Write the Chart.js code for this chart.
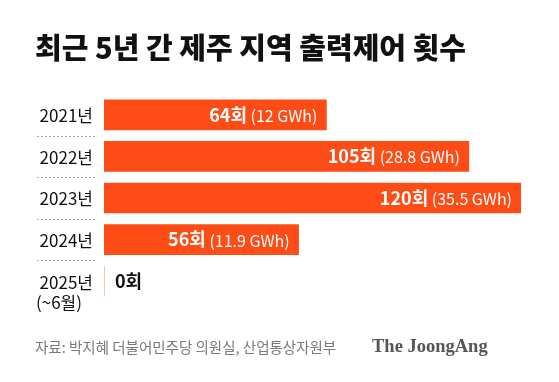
<!DOCTYPE html>
<html>
<head>
<meta charset="utf-8">
<script src="https://cdn.jsdelivr.net/npm/chart.js@4"></script>
<style>
  html, body { margin: 0; padding: 0; background: #fff; }
  #wrap { width: 559px; height: 382px; position: relative; }
</style>
</head>
<body>
<div id="wrap"><canvas id="chart" width="559" height="382"></canvas></div>
<script>
// data
var years = ['2021년', '2022년', '2023년', '2024년', '2025년'];
var yearNotes = ['', '', '', '', '(~6월)'];
var counts = [64, 105, 120, 56, 0];
var energyGWh = ['12', '28.8', '35.5', '11.9', ''];

var KR = '"Noto Sans CJK KR", "Noto Sans", sans-serif';
var barColor = '#fd4c16';

// titles, row labels, separators, value labels, footer
var decor = {
    id: 'decor',
    afterDraw: function (chart) {
        var ctx = chart.ctx;
        var yScale = chart.scales.y;
        var meta = chart.getDatasetMeta(0);
        ctx.save();

        // title
        ctx.fillStyle = '#111';
        ctx.font = '900 29px ' + KR;
        ctx.textAlign = 'left';
        ctx.textBaseline = 'middle';
        ctx.fillText('최근 5년 간 제주 지역 출력제어 횟수', 35, 48);

        // row labels
        ctx.font = '17px ' + KR;
        ctx.fillStyle = '#111';
        ctx.textAlign = 'right';
        for (var i = 0; i < years.length; i++) {
            var cy = yScale.getPixelForValue(i);
            ctx.fillText(years[i], 93, cy + 1);
            if (yearNotes[i]) {
                ctx.textAlign = 'left';
                ctx.fillText(yearNotes[i], 36, cy + 21);
                ctx.textAlign = 'right';
            }
        }

        // dotted separators between rows
        ctx.strokeStyle = '#aaa';
        ctx.lineWidth = 1;
        ctx.setLineDash([2, 2]);
        for (var j = 0; j < years.length - 1; j++) {
            var sy = Math.round((yScale.getPixelForValue(j) + yScale.getPixelForValue(j + 1)) / 2) + 0.5;
            ctx.beginPath();
            ctx.moveTo(37, sy);
            ctx.lineTo(96, sy);
            ctx.stroke();
        }
        ctx.setLineDash([]);

        // value labels
        meta.data.forEach(function (bar, k) {
            var main = counts[k] + '회';
            var sub = energyGWh[k] ? ' (' + energyGWh[k] + ' GWh)' : '';
            ctx.textBaseline = 'middle';
            ctx.textAlign = 'left';
            ctx.font = 'bold 18px ' + KR;
            var wMain = ctx.measureText(main).width;
            ctx.font = '16px ' + KR;
            var wSub = ctx.measureText(sub).width;
            var x0;
            if (counts[k] > 0) {
                x0 = bar.x - 9 - wMain - wSub;
                ctx.fillStyle = '#fff';
            } else {
                x0 = bar.x + 11;
                ctx.fillStyle = '#111';
            }
            ctx.font = 'bold 18px ' + KR;
            ctx.fillText(main, x0, bar.y);
            ctx.font = '16px ' + KR;
            ctx.fillText(sub, x0 + wMain, bar.y + 1);
        });

        // footer
        ctx.textAlign = 'left';
        ctx.fillStyle = '#7a7a7a';
        ctx.font = '14.5px ' + KR;
        ctx.fillText('자료: 박지혜 더불어민주당 의원실, 산업통상자원부', 35, 347);
        ctx.fillStyle = '#555';
        ctx.font = 'bold 18.5px "Liberation Serif", "DejaVu Serif", serif';
        ctx.fillText('The JoongAng', 372, 347);

        ctx.restore();
    }
};

var ctx = document.getElementById('chart').getContext('2d');
var chart = new Chart(ctx, {
    type: 'bar',
    data: {
        labels: years,
        datasets: [{
            data: counts,
            backgroundColor: barColor,
            borderWidth: 0,
            barThickness: 30
        }]
    },
    options: {
        indexAxis: 'y',
        responsive: false,
        animation: false,
        layout: { padding: { left: 104, right: 38, top: 94, bottom: 80 } },
        plugins: {
            legend: { display: false },
            tooltip: { enabled: false }
        },
        scales: {
            x: { display: false, min: 0, max: 120 },
            y: { display: false }
        }
    },
    plugins: [decor]
});
</script>
</body>
</html>
